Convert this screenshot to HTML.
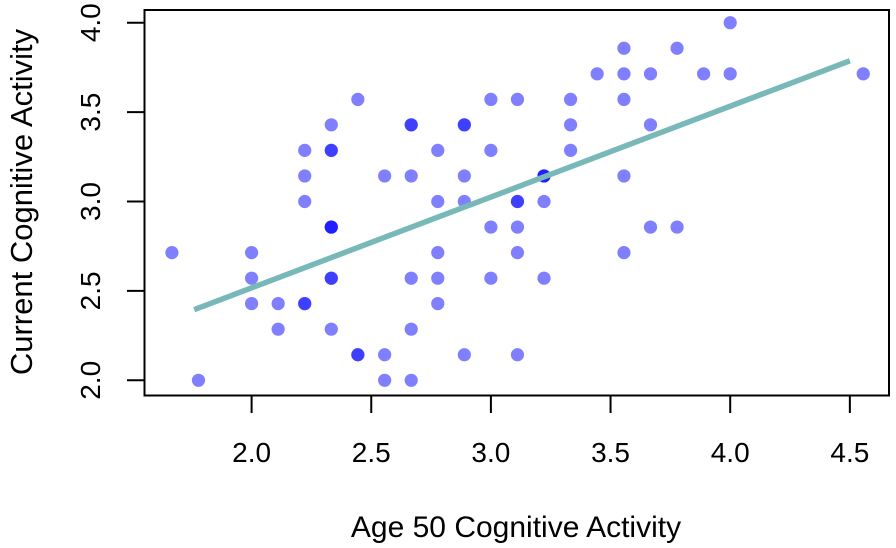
<!DOCTYPE html>
<html><head><meta charset="utf-8"><style>
html,body{margin:0;padding:0;background:#fff;}
svg{display:block;font-family:"Liberation Sans",Arial,sans-serif;}
</style></head><body>
<svg id="chart" width="896" height="548" viewBox="0 0 896 548">
<rect x="144.5" y="10" width="744.5" height="385.5" fill="none" stroke="#000" stroke-width="2"/>
<g id="xaxis"></g>
<g id="yaxis"></g>
<g id="points"></g>
<g id="fit"></g>
<text x="516" y="537" font-size="30" text-anchor="middle" fill="#000">Age 50 Cognitive Activity</text>
<text transform="translate(32,202) rotate(-90)" font-size="31" text-anchor="middle" fill="#000">Current Cognitive Activity</text>
</svg>
<script>
const xTicks = [2.0, 2.5, 3.0, 3.5, 4.0, 4.5];
const xTickLabels = ["2.0", "2.5", "3.0", "3.5", "4.0", "4.5"];
const yTicks = [2.0, 2.5, 3.0, 3.5, 4.0];
const yTickLabels = ["2.0", "2.5", "3.0", "3.5", "4.0"];
const xValues = [2.444,3.0,3.111,2.333,2.667,2.667,2.889,2.889,2.222,2.333,2.333,2.778,3.0,2.222,2.556,2.667,2.889,2.222,2.778,2.889,3.111,3.111,2.333,2.333,2.333,3.0,3.111,1.667,2.0,2.778,3.111,2.0,2.333,2.333,2.667,2.778,3.0,2.0,2.111,2.222,2.222,2.778,2.111,2.333,2.667,2.444,2.444,2.556,2.889,3.111,1.778,2.556,2.667,4.0,3.556,3.778,3.444,3.556,3.667,3.889,4.0,4.556,3.333,3.556,3.333,3.667,3.333,3.222,3.222,3.222,3.556,3.222,3.667,3.778,3.556,3.222];
const yValues = [3.571,3.571,3.571,3.429,3.429,3.429,3.429,3.429,3.286,3.286,3.286,3.286,3.286,3.143,3.143,3.143,3.143,3.0,3.0,3.0,3.0,3.0,2.857,2.857,2.857,2.857,2.857,2.714,2.714,2.714,2.714,2.571,2.571,2.571,2.571,2.571,2.571,2.429,2.429,2.429,2.429,2.429,2.286,2.286,2.286,2.143,2.143,2.143,2.143,2.143,2.0,2.0,2.0,4.0,3.857,3.857,3.714,3.714,3.714,3.714,3.714,3.714,3.571,3.571,3.429,3.429,3.286,3.143,3.143,3.143,3.143,3.0,2.857,2.857,2.714,2.571];
const fitIntercept = [1.501];
const fitSlope = [0.508];
const fitRange = [1.76, 4.5];

const NS = "http://www.w3.org/2000/svg";
function xs(v){ return 251.6 + (v - 2) * 239.3; }
function ys(v){ return 380.3 - (v - 2) * 178.8; }
function mk(tag, attrs, parent){ const e = document.createElementNS(NS, tag); for (const k in attrs) e.setAttribute(k, attrs[k]); parent.appendChild(e); return e; }

const gx = document.getElementById('xaxis');
xTicks.forEach((t, i) => {
  const l = mk('line', {x1: xs(t), x2: xs(t), y1: 395.5, y2: 413, stroke: '#000', 'stroke-width': 2}, gx);
  
  
  const tx = mk('text', {x: xs(t), y: 462, 'font-size': 28, 'text-anchor': 'middle', fill: '#000'}, gx);
  tx.textContent = xTickLabels[i];
  
  
});
const gy = document.getElementById('yaxis');
yTicks.forEach((t, i) => {
  const l = mk('line', {x1: 127, x2: 144.5, y1: ys(t), y2: ys(t), stroke: '#000', 'stroke-width': 2}, gy);
  
  
  const tx = mk('text', {transform: 'translate(100,' + ys(t) + ') rotate(-90)', 'font-size': 28, 'text-anchor': 'middle', fill: '#000'}, gy);
  tx.textContent = yTickLabels[i];
  
  
});
const gp = document.getElementById('points');
xValues.forEach((x, i) => {
  const c = mk('circle', {cx: xs(x), cy: ys(yValues[i]), r: 6.6, fill: 'rgba(0,0,255,0.5)'}, gp);
  
  
});
const gf = document.getElementById('fit');
const ln = mk('line', {x1: xs(fitRange[0]), y1: ys(fitIntercept[0] + fitSlope[0] * fitRange[0]), x2: xs(fitRange[1]), y2: ys(fitIntercept[0] + fitSlope[0] * fitRange[1]), stroke: '#79b8b8', 'stroke-width': 5.5}, gf);


</script>
</body></html>
